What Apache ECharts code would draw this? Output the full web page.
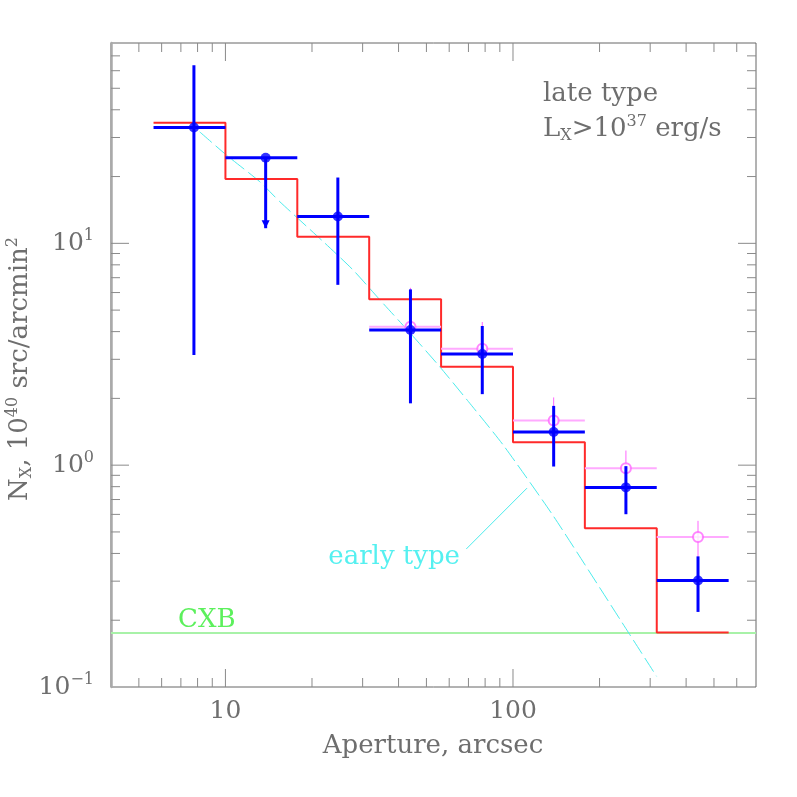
<!DOCTYPE html>
<html>
<head>
<meta charset="utf-8">
<script src="https://cdn.jsdelivr.net/npm/echarts@6/dist/echarts.min.js"></script>
<style>
  html, body { margin: 0; padding: 0; background: #fff; }
  #chart { width: 797px; height: 797px; }
</style>
</head>
<body>
<div id="chart"></div>
<script>
// bin edges (aperture, arcsec) - 0.25 dex bins
const binEdges = [5.623, 10, 17.78, 31.62, 56.23, 100, 177.8, 316.2, 562.3]
// red histogram: model level per bin
const modelLevels = [35.0, 19.5, 10.7, 5.6, 2.78, 1.27, 0.52, 0.176]

// late type, filled blue points
const lateX = [7.77, 13.8, 24.6, 44.0, 78.2, 138.5, 247, 440]
const lateY = [33.3, 24.3, 13.2, 4.07, 3.17, 1.41, 0.794, 0.302]
const lateErrLo = [3.14, 11.7, 6.5, 1.9, 2.09, 0.986, 0.601, 0.218]
const lateErrHi = [63.5, 24.3, 19.8, 6.2, 4.24, 1.85, 0.99, 0.388]
const lateUpperLimit = [0, 1, 0, 0, 0, 0, 0, 0]

// open magenta points (last five bins)
const altBin = [3, 4, 5, 6, 7]
const altY = [4.21, 3.35, 1.59, 0.969, 0.475]
const altErrLo = [3.0, 2.5, 1.22, 0.78, 0.38]
const altErrHi = [6.3, 4.42, 2.02, 1.164, 0.561]

// early type curve (dashed cyan)
const earlyX = [8.14, 10.08, 13.17, 15.46, 21.9, 27.8, 34.5, 45.0, 55.6, 70.0, 92.4, 138.5, 252.8, 315.7]
const earlyY = [31.8, 25.0, 18.95, 15.4, 10.17, 7.58, 5.55, 3.8, 2.78, 1.934, 1.234, 0.587, 0.175, 0.1117]
const earlyPointerFrom = [68.8, 0.419]
const earlyPointerTo = [111.9, 0.788]

// cosmic X-ray background level
const cxbLevel = 0.175

// axes
const xRange = [4, 700]
const yRange = [0.1, 80]
const xLabelValues = [10, 100]
const xLabelTexts = ['10', '100']
const yLabelValues = [0.1, 1, 10]
const yLabelExps = ['−1', '0', '1']
const xMajorTicks = [10, 100]
const xMinorTicks = [5, 6, 7, 8, 9, 20, 30, 40, 50, 60, 70, 80, 90, 200, 300, 400, 500, 600]
const yMajorTicks = [1, 10]
const yMinorTicks = [0.2, 0.3, 0.4, 0.5, 0.6, 0.7, 0.8, 0.9, 2, 3, 4, 5, 6, 7, 8, 9, 20, 30, 40, 50, 60, 70]

const FONT = 'DejaVu Serif'
const GREY = '#6e6e6e'

const chart = echarts.init(document.getElementById('chart'))

const sameVal = (a, b) => Math.abs(Math.log10(a) - Math.log10(b)) < 1e-6

const errRows = lateX.map((x, i) => [x, lateY[i], lateErrLo[i], lateErrHi[i], binEdges[i], binEdges[i + 1], lateUpperLimit[i]])
const altRows = altBin.map((b, i) => [lateX[b], altY[i], altErrLo[i], altErrHi[i], binEdges[b], binEdges[b + 1], 0])

function errorBars(color, barWidth, vWidth) {
  return function (params, api) {
    const c = api.coord([api.value(0), api.value(1)])
    const l = api.coord([api.value(4), api.value(1)])
    const r = api.coord([api.value(5), api.value(1)])
    const lo = api.coord([api.value(0), api.value(2)])
    const hi = api.coord([api.value(0), api.value(3)])
    const children = [
      { type: 'line', shape: { x1: l[0], y1: c[1], x2: r[0], y2: c[1] }, style: { stroke: color.bar, lineWidth: barWidth } },
      { type: 'line', shape: { x1: c[0], y1: hi[1], x2: c[0], y2: lo[1] }, style: { stroke: color.err, lineWidth: vWidth } }
    ]
    if (api.value(6)) {
      children.push({
        type: 'polygon',
        shape: { points: [[c[0] - 4, lo[1] - 8], [c[0] + 4, lo[1] - 8], [c[0], lo[1]]] },
        style: { fill: color.err }
      })
    }
    return { type: 'group', children }
  }
}

function tickMarks(params, api) {
  const cs = params.coordSys
  const top = cs.y
  const bottom = cs.y + cs.height
  const left = cs.x
  const right = cs.x + cs.width
  const st = { stroke: '#8a8a8a', lineWidth: 1 }
  const out = []
  const xt = (v, len) => {
    const px = api.coord([v, 1])[0]
    out.push({ type: 'line', shape: { x1: px, y1: bottom, x2: px, y2: bottom - len }, style: st })
    out.push({ type: 'line', shape: { x1: px, y1: top, x2: px, y2: top + len }, style: st })
  }
  const yt = (v, len) => {
    const py = api.coord([10, v])[1]
    out.push({ type: 'line', shape: { x1: left, y1: py, x2: left + len, y2: py }, style: st })
    out.push({ type: 'line', shape: { x1: right, y1: py, x2: right - len, y2: py }, style: st })
  }
  xMajorTicks.forEach((v) => xt(v, 18))
  xMinorTicks.forEach((v) => xt(v, 9))
  yMajorTicks.forEach((v) => yt(v, 18))
  yMinorTicks.forEach((v) => yt(v, 9))
  return { type: 'group', children: out }
}

const richLabel = {
  b: { fontFamily: FONT, fontSize: 26, fill: GREY, lineHeight: 30 },
  sub: { fontFamily: FONT, fontSize: 16, fill: GREY, lineHeight: 8, verticalAlign: 'bottom' },
  sup: { fontFamily: FONT, fontSize: 16, fill: GREY, lineHeight: 16, verticalAlign: 'top' }
}

const option = {
  animation: false,
  backgroundColor: '#fff',
  grid: { left: 111, right: 41, top: 43, bottom: 110, show: true, borderColor: '#666', borderWidth: 1 },
  xAxis: {
    type: 'log',
    logBase: 10,
    min: xRange[0],
    max: xRange[1],
    axisLine: { show: false },
    axisTick: { show: false },
    splitLine: { show: false },
    axisLabel: {
      margin: 12,
      color: GREY,
      fontFamily: FONT,
      fontSize: 25,
      formatter: (v) => {
        const i = xLabelValues.findIndex((t) => sameVal(t, v))
        return i >= 0 ? xLabelTexts[i] : ''
      }
    }
  },
  yAxis: {
    type: 'log',
    logBase: 10,
    min: yRange[0],
    max: yRange[1],
    axisLine: { show: true, lineStyle: { color: '#aaa', width: 2.5 } },
    axisTick: { show: false },
    splitLine: { show: false },
    axisLabel: {
      margin: 17,
      formatter: (v) => {
        const i = yLabelValues.findIndex((t) => sameVal(t, v))
        return i >= 0 ? '{b|10}{s|' + yLabelExps[i] + '}' : ''
      },
      rich: {
        b: { color: GREY, fontFamily: FONT, fontSize: 25, lineHeight: 30 },
        s: { color: GREY, fontFamily: FONT, fontSize: 16, lineHeight: 16, verticalAlign: 'top' }
      }
    }
  },
  series: [
    {
      type: 'line',
      name: 'CXB',
      z: 1,
      symbol: 'none',
      lineStyle: { color: '#a8f2a8', width: 2 },
      data: [[xRange[0], cxbLevel], [xRange[1], cxbLevel]]
    },
    {
      type: 'line',
      name: 'early type',
      z: 2,
      symbol: 'none',
      smooth: 0.2,
      lineStyle: { color: '#4cecec', width: 1, type: [16, 5] },
      data: earlyX.map((x, i) => [x, earlyY[i]])
    },
    {
      type: 'custom',
      name: 'pointer',
      z: 2,
      renderItem: (params, api) => {
        const a = api.coord(earlyPointerFrom)
        const b = api.coord(earlyPointerTo)
        return { type: 'line', shape: { x1: a[0], y1: a[1], x2: b[0], y2: b[1] }, style: { stroke: '#4cecec', lineWidth: 1 } }
      },
      data: [[10, 1]]
    },
    {
      type: 'line',
      name: 'model',
      z: 3,
      step: 'end',
      symbol: 'none',
      lineStyle: { color: '#ff2a2a', width: 2 },
      data: binEdges.map((e, i) => [e, modelLevels[Math.min(i, modelLevels.length - 1)]])
    },
    {
      type: 'custom',
      name: 'alt err',
      z: 4,
      renderItem: errorBars({ bar: '#ffaaff', err: '#ff66ff' }, 2, 1),
      data: altRows
    },
    {
      type: 'scatter',
      name: 'alt',
      z: 5,
      symbol: 'emptyCircle',
      symbolSize: 10,
      itemStyle: { color: '#ff66ff', borderWidth: 1 },
      data: altBin.map((b, i) => [lateX[b], altY[i]])
    },
    {
      type: 'custom',
      name: 'late err',
      z: 6,
      renderItem: errorBars({ bar: '#0000ff', err: '#0000ff' }, 3, 3),
      data: errRows
    },
    {
      type: 'scatter',
      name: 'late',
      z: 7,
      symbol: 'circle',
      symbolSize: 10,
      itemStyle: { color: '#0000ff' },
      data: lateX.map((x, i) => [x, lateY[i]])
    },
    {
      type: 'custom',
      name: 'ticks',
      z: 8,
      silent: true,
      renderItem: tickMarks,
      data: [[10, 1]]
    }
  ],
  graphic: [
    {
      type: 'text',
      style: { x: 543, y: 94, text: 'late type', font: '26px "DejaVu Serif"', fill: GREY, verticalAlign: 'middle' }
    },
    {
      type: 'text',
      style: {
        x: 543, y: 129, verticalAlign: 'middle',
        text: '{b|L}{sub|X}{b|>10}{sup|37}{b| erg/s}',
        rich: richLabel
      }
    },
    {
      type: 'text',
      style: { x: 460, y: 557, text: 'early type', font: '26px "DejaVu Serif"', fill: '#55f0f0', align: 'right', verticalAlign: 'middle' }
    },
    {
      type: 'text',
      style: { x: 178, y: 620, text: 'CXB', font: '26px "DejaVu Serif"', fill: '#5cf05c', verticalAlign: 'middle' }
    },
    {
      type: 'text',
      style: { x: 433, y: 746, text: 'Aperture, arcsec', font: '26px "DejaVu Serif"', fill: GREY, align: 'center', verticalAlign: 'middle' }
    },
    {
      type: 'text',
      x: 20,
      y: 369,
      rotation: Math.PI / 2,
      style: {
        x: 0, y: 0, align: 'center', verticalAlign: 'middle',
        text: '{b|N}{sub|X}{b|, 10}{sup|40}{b| src/arcmin}{sup|2}',
        rich: richLabel
      }
    }
  ]
}

chart.setOption(option)
</script>
</body>
</html>
